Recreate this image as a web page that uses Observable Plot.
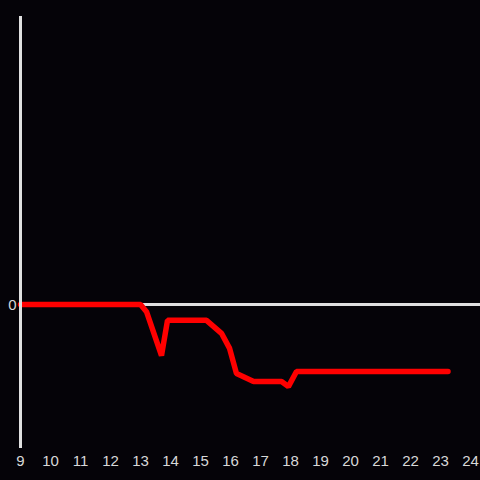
<!DOCTYPE html>
<html>
<head>
<meta charset="utf-8">
<script src="https://cdn.jsdelivr.net/npm/d3@7"></script>
<script src="https://cdn.jsdelivr.net/npm/@observablehq/plot@0.6"></script>
<style>
  html, body { margin: 0; padding: 0; background: #050308; }
  #chart { width: 480px; height: 480px; }
</style>
</head>
<body>
<div id="chart"></div>
<script>
const hours = [9, 13.0, 13.2, 13.7, 13.9, 15.2, 15.7, 15.97, 16.2, 16.77, 17.7, 17.93, 18.2, 23.25];
const values = [0, 0, -0.05, -0.355, -0.11, -0.11, -0.2, -0.305, -0.48, -0.535, -0.535, -0.57, -0.465, -0.465];
const xTicks = [9, 10, 11, 12, 13, 14, 15, 16, 17, 18, 19, 20, 21, 22, 23, 24];
const yTicks = [0];

const data = hours.map((h, i) => ({hour: h, value: values[i]}));

const chart = Plot.plot({
  width: 480,
  height: 480,
  marginTop: 16,
  marginBottom: 32,
  marginLeft: 20,
  marginRight: 0,
  style: {background: "#050308", color: "#d8d8d8", fontFamily: "Liberation Sans, Arial, sans-serif", fontSize: "15px"},
  x: {domain: [9, 24 + 1/3], ticks: xTicks, tickFormat: d => String(d), label: null},
  y: {domain: [-1, 2], ticks: yTicks, tickFormat: d => String(d), label: null},
  marks: [
    Plot.ruleY(yTicks, {stroke: "#e0e0e0", strokeWidth: 3}),
    Plot.line(data, {x: "hour", y: "value", stroke: "#ff0000", strokeWidth: 5.5, strokeLinecap: "round", strokeLinejoin: "miter"}),
    Plot.ruleX([9], {stroke: "#e0e0e0", strokeWidth: 3}),
    Plot.axisX({ticks: xTicks, tickSize: 0, tickPadding: 7, tickFormat: d => String(d), label: null, fill: "#d8d8d8"}),
    Plot.axisY({ticks: yTicks, tickSize: 0, tickPadding: 4, dy: 1, tickFormat: d => String(d), label: null, fill: "#d8d8d8"})
  ]
});
document.getElementById("chart").appendChild(chart);
</script>
</body>
</html>
